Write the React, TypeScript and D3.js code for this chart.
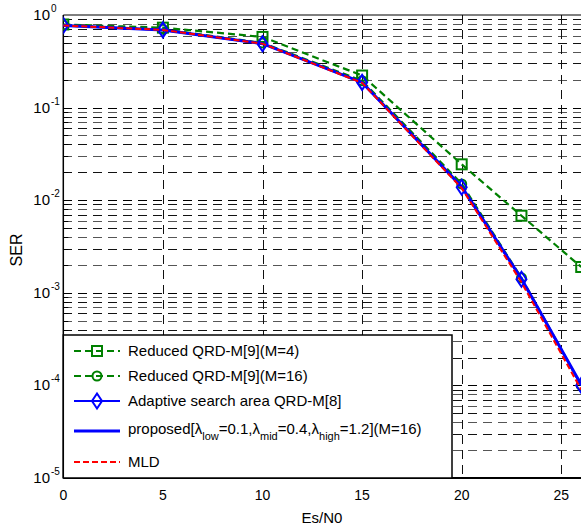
import React from "react";
import * as d3 from "d3";

const snr = [0, 5, 10, 15, 20, 23, 26];
const serQrdM4 = [0.79, 0.73, 0.58, 0.222, 0.0244, 0.0068, 0.0019];
const serQrdM16 = [0.78, 0.7, 0.5, 0.195, 0.015, 0.00145, 0.0001];
const serAdaptive = [0.77, 0.69, 0.49, 0.187, 0.0138, 0.0014, 0.0001];
const serProposed = [0.77, 0.69, 0.49, 0.187, 0.014, 0.00142, 0.000102];
const serMld = [0.77, 0.69, 0.49, 0.185, 0.0135, 0.0013, 0.00009];

const xGridTicks = [5, 10, 15, 20, 25, 30];
const xTickLabels = [0, 5, 10, 15, 20, 25];
const yExponents = [0, -1, -2, -3, -4, -5];

const FONT = "'Liberation Sans', Arial, Helvetica, sans-serif";
const GREEN = "#008000";
const BLUE = "#0000ff";
const RED = "#ff0000";

export default function App() {
  const W = 581;
  const H = 526;
  const x = d3.scaleLinear().domain([0, 30]).range([63.3, 660.9]);
  const y = d3.scaleLog().domain([1e-5, 1]).range([478, 15]);
  const left = x(0);
  const right = W + 5;
  const top = y(1);
  const bottom = y(1e-5);
  const snap = (v: number) => Math.round(v) + 0.5;

  const line = d3
    .line<[number, number]>()
    .x((d) => x(d[0]))
    .y((d) => y(d[1]));
  const pts = (vals: number[]) => snr.map((s, i) => [s, vals[i]] as [number, number]);

  const hGrid: { v: number; major: boolean }[] = [];
  for (let e = -5; e < 0; e++) {
    for (let k = 1; k <= 9; k++) {
      if (e === -5 && k === 1) continue;
      hGrid.push({ v: k * Math.pow(10, e), major: k === 1 });
    }
  }

  const square = (cx: number, cy: number, key: string) => (
    <rect key={key} x={cx - 5} y={cy - 5} width={10} height={10} fill="none" stroke={GREEN} strokeWidth={2} />
  );
  const circle = (cx: number, cy: number, key: string) => (
    <circle key={key} cx={cx} cy={cy} r={4.5} fill="none" stroke={GREEN} strokeWidth={2} />
  );
  const diamond = (cx: number, cy: number, key: string) => (
    <path
      key={key}
      d={`M${cx},${cy - 7.5}L${cx + 5},${cy}L${cx},${cy + 7.5}L${cx - 5},${cy}Z`}
      fill="none"
      stroke={BLUE}
      strokeWidth={2}
    />
  );

  const legendX0 = 74;
  const legendX1 = 120;
  const legendMx = 97;
  const legendTx = 128;
  const legendRows = [351, 376, 401, 431, 462];

  return (
    <svg
      width={W}
      height={H}
      style={{ position: "absolute", left: 0, top: 0, background: "#fff", overflow: "hidden" }}
      fontFamily={FONT}
    >
      <rect x={0} y={0} width={W} height={H} fill="#fff" />
      <defs>
        <clipPath id="plotclip">
          <rect x={left} y={top - 8} width={right - left} height={bottom - top + 16} />
        </clipPath>
      </defs>
      {/* grid */}
      <g strokeWidth={1} strokeDasharray="8.5,6.5" fill="none" shapeRendering="crispEdges">
        {hGrid.map((g, i) => (
          <line
            key={"h" + i}
            x1={left}
            x2={right}
            y1={snap(y(g.v))}
            y2={snap(y(g.v))}
            stroke={g.major ? "#000" : i % 2 ? "#111" : "#555"}
          />
        ))}
        {xGridTicks.map((t) => (
          <line key={"v" + t} x1={snap(x(t))} x2={snap(x(t))} y1={top} y2={bottom} stroke="#111" />
        ))}
      </g>
      {/* ticks on left axis */}
      <g stroke="#000" strokeWidth={1}>
        {hGrid.map((g, i) => (
          <line key={"t" + i} x1={left} x2={left + (g.major ? 8 : 5)} y1={snap(y(g.v))} y2={snap(y(g.v))} />
        ))}
      </g>
      {/* axes box */}
      <line x1={left} x2={right} y1={top} y2={top} stroke="#000" strokeWidth={1.2} />
      <line x1={left} x2={left} y1={top} y2={bottom} stroke="#000" strokeWidth={1.5} />
      <line x1={left} x2={right} y1={bottom} y2={bottom} stroke="#000" strokeWidth={2} />

      {/* series */}
      <g clipPath="url(#plotclip)">
        <path d={line(pts(serQrdM4)) || ""} fill="none" stroke={GREEN} strokeWidth={2.2} strokeDasharray="7,4" />
        {snr.map((s, i) => square(x(s), y(serQrdM4[i]), "sq" + i))}
        <path d={line(pts(serQrdM16)) || ""} fill="none" stroke={GREEN} strokeWidth={2.2} strokeDasharray="7,4" />
        {snr.map((s, i) => circle(x(s), y(serQrdM16[i]), "ci" + i))}
        <path d={line(pts(serAdaptive)) || ""} fill="none" stroke={BLUE} strokeWidth={2} />
        {snr.map((s, i) => diamond(x(s), y(serAdaptive[i]), "di" + i))}
        <path d={line(pts(serProposed)) || ""} fill="none" stroke={BLUE} strokeWidth={3} />
        <path d={line(pts(serMld)) || ""} fill="none" stroke={RED} strokeWidth={2} strokeDasharray="6,3" />
      </g>

      {/* legend */}
      <rect x={left} y={335} width={452 - left} height={bottom - 335} fill="#fff" stroke="#000" strokeWidth={1.5} />
      <g fontSize={15} fill="#000">
        <line x1={legendX0} x2={legendX1} y1={legendRows[0]} y2={legendRows[0]} stroke={GREEN} strokeWidth={2} strokeDasharray="7,4" />
        {square(legendMx, legendRows[0], "lsq")}
        <text x={legendTx} y={legendRows[0] + 5}>Reduced QRD-M[9](M=4)</text>

        <line x1={legendX0} x2={legendX1} y1={legendRows[1]} y2={legendRows[1]} stroke={GREEN} strokeWidth={2} strokeDasharray="7,4" />
        {circle(legendMx, legendRows[1], "lci")}
        <text x={legendTx} y={legendRows[1] + 5}>Reduced QRD-M[9](M=16)</text>

        <line x1={legendX0} x2={legendX1} y1={legendRows[2]} y2={legendRows[2]} stroke={BLUE} strokeWidth={2} />
        {diamond(legendMx, legendRows[2], "ldi")}
        <text x={legendTx} y={legendRows[2] + 5}>Adaptive search area QRD-M[8]</text>

        <line x1={legendX0} x2={legendX1} y1={legendRows[3]} y2={legendRows[3]} stroke={BLUE} strokeWidth={3} />
        <text x={legendTx} y={legendRows[3] + 3}>
          <tspan>proposed[λ</tspan>
          <tspan fontSize={11} dy={6}>low</tspan>
          <tspan dy={-6}>=0.1,λ</tspan>
          <tspan fontSize={11} dy={6}>mid</tspan>
          <tspan dy={-6}>=0.4,λ</tspan>
          <tspan fontSize={11} dy={6}>high</tspan>
          <tspan dy={-6}>=1.2](M=16)</tspan>
        </text>

        <line x1={legendX0} x2={legendX1} y1={legendRows[4]} y2={legendRows[4]} stroke={RED} strokeWidth={2} strokeDasharray="6,3" />
        <text x={legendTx} y={legendRows[4] + 5}>MLD</text>
      </g>

      {/* y tick labels */}
      <g fontSize={15} fill="#000">
        {yExponents.map((e) => (
          <g key={"yl" + e}>
            <text x={50} y={y(Math.pow(10, e)) + 5} textAnchor="end">10</text>
            <text x={51} y={y(Math.pow(10, e)) - 3} fontSize={10}>{e === 0 ? "0" : "-" + Math.abs(e)}</text>
          </g>
        ))}
      </g>
      {/* x tick labels */}
      <g fontSize={14} fill="#000">
        {xTickLabels.map((t) => (
          <text key={"xl" + t} x={x(t)} y={500} textAnchor="middle">{t}</text>
        ))}
      </g>
      <text x={322} y={523} textAnchor="middle" fontSize={15}>Es/N0</text>
      <text transform="translate(22,250) rotate(-90)" textAnchor="middle" fontSize={16}>SER</text>
    </svg>
  );
}
